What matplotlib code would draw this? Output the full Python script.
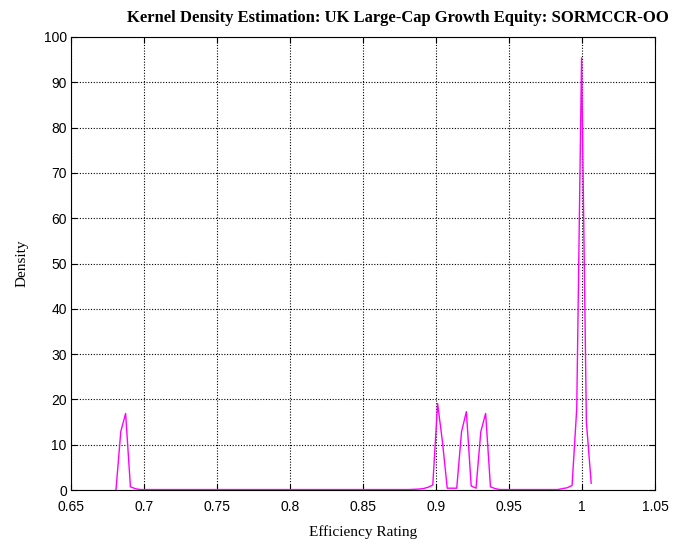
import numpy as np
import matplotlib
matplotlib.use("Agg")
import matplotlib.pyplot as plt

# kernel density estimate, key points of the curve
rating = [0.6808, 0.6841, 0.6874, 0.6907, 0.6940, 0.6972, 0.8814, 0.8879,
          0.8912, 0.8945, 0.8978, 0.9011, 0.9044, 0.9077, 0.9142, 0.9175,
          0.9208, 0.9241, 0.9274, 0.9307, 0.9340, 0.9373, 0.9406, 0.9438,
          0.9833, 0.9866, 0.9899, 0.9932, 0.9964, 0.9997, 1.0030, 1.0063]
density = [0.0, 12.9, 16.9, 0.7, 0.3, 0.1, 0.1, 0.2,
           0.3, 0.6, 1.1, 19.1, 10.7, 0.4, 0.4, 12.9,
           17.3, 0.9, 0.4, 12.9, 16.9, 0.7, 0.3, 0.1,
           0.1, 0.3, 0.5, 1.0, 18.0, 95.4, 15.0, 1.5]

xticks = [0.65, 0.7, 0.75, 0.8, 0.85, 0.9, 0.95, 1, 1.05]
xtick_labels = ["0.65", "0.7", "0.75", "0.8", "0.85", "0.9", "0.95", "1", "1.05"]
yticks = [0, 10, 20, 30, 40, 50, 60, 70, 80, 90, 100]

fig = plt.figure(figsize=(6.75, 5.45), dpi=100)
ax = fig.add_axes([71/675, 55/545, 584/675, 453/545])

ax.plot(rating, density, color="#ff00ff", linewidth=1.0)

ax.set_xlim(0.65, 1.05)
ax.set_ylim(0, 100)
ax.set_xticks(xticks)
ax.set_xticklabels(xtick_labels)
ax.set_yticks(yticks)
ax.grid(True, color="black", linestyle=(0, (1, 1.5)), linewidth=0.8)
ax.tick_params(direction="in", length=4, labelsize=10, top=True, right=True,
               labeltop=False, labelright=False, width=0.8)
ax.tick_params(axis="x", pad=7)
ax.tick_params(axis="y", pad=3)
for lab in ax.get_xticklabels() + ax.get_yticklabels():
    lab.set_family("Liberation Sans")
for sp in ax.spines.values():
    sp.set_linewidth(0.8)

ax.set_xlabel("Efficiency Rating", family="Liberation Serif", fontsize=11, labelpad=8)
ax.set_ylabel("Density", family="Liberation Serif", fontsize=11, labelpad=11)
fig.text(397.5/675, 1 - 18/545, "Kernel Density Estimation: UK Large-Cap Growth Equity: SORMCCR-OO",
         family="Liberation Serif", fontweight="bold", fontsize=12,
         ha="center", va="center")

plt.savefig("out.png", dpi=100)
